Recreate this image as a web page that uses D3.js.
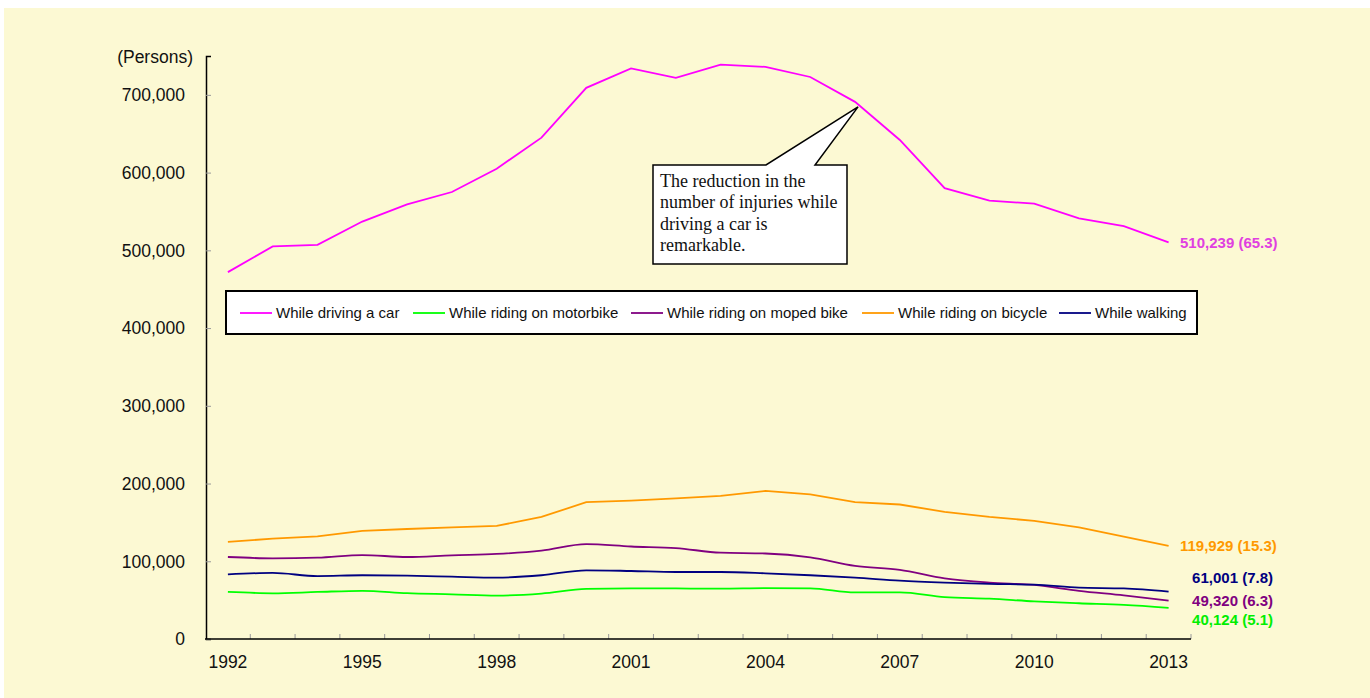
<!DOCTYPE html>
<html>
<head>
<meta charset="utf-8">
<script src="https://cdn.jsdelivr.net/npm/d3@7"></script>
<style>
  body { margin: 0; background: #fff; }
  svg { display: block; }
</style>
</head>
<body>
<div id="chart"></div>
<script>
// data (persons injured, by state at time of accident)
var years = d3.range(1992, 2014);
var yearLabels = [1992, 1995, 1998, 2001, 2004, 2007, 2010, 2013];
var yTicks = [0, 100000, 200000, 300000, 400000, 500000, 600000, 700000];

var car = [472000, 505000, 507000, 537000, 559000, 575000, 605000, 645000, 709000, 734000, 722000,
  739000, 736000, 723000, 691000, 642000, 580000, 564000, 560000, 541000, 531000, 510239];
var motorbike = [60500, 58800, 60500, 62000, 59000, 57500, 55800, 58400, 64400, 65200, 65000,
  64800, 65500, 65200, 60000, 60000, 54000, 51900, 48500, 46000, 43800, 40124];
var moped = [105500, 103800, 104600, 108000, 105500, 107700, 109400, 113700, 122000, 119000, 117000,
  111000, 110000, 105000, 94000, 89000, 78000, 72500, 69500, 62000, 56000, 49320];
var bicycle = [125000, 129000, 132000, 139000, 141500, 143700, 145400, 157000, 176000, 178000, 181000,
  184000, 190500, 186000, 176000, 173000, 163500, 157000, 152000, 143700, 131700, 119929];
var walking = [83200, 85000, 81000, 82000, 81500, 80200, 79000, 82000, 88400, 87500, 86200,
  86200, 84500, 82000, 79000, 75000, 72500, 70800, 70000, 66000, 65000, 61001];

var seriesNames = ["While driving a car", "While riding on motorbike", "While riding on moped bike",
  "While riding on bicycle", "While walking"];
var endLabels = ["510,239 (65.3)", "40,124 (5.1)", "49,320 (6.3)", "119,929 (15.3)", "61,001 (7.8)"];

var colors = ["#FF00FF", "#00FF00", "#800080", "#FF9900", "#000080"];
var labelColors = ["#E040E0", "#00EE00", "#800080", "#FF9900", "#000080"];
var labelDy = [0, 12, 0, 0, -14];

var series = [car, motorbike, moped, bicycle, walking].map(function (v, i) {
  return { name: seriesNames[i], values: v, color: colors[i], label: endLabels[i],
    labelColor: labelColors[i], smooth: i === 1 || i === 2 || i === 4, dy: labelDy[i] };
});

var W = 1370, H = 698;
var svg = d3.select("#chart").append("svg")
  .attr("width", W).attr("height", H);

svg.append("rect")
  .attr("x", 4).attr("y", 8).attr("width", W - 4).attr("height", H - 8)
  .attr("fill", "#FCF9D3");

var x = d3.scaleBand()
  .domain(years)
  .range([205.5, 1191]);
var y = d3.scaleLinear()
  .domain([0, 750000])
  .range([639, 56]);

var fmt = d3.format(",");
var font = "Arial, 'Liberation Sans', sans-serif";

// y axis
var yAxis = svg.append("g")
  .attr("transform", "translate(206,0)")
  .call(d3.axisRight(y).tickValues(yTicks).tickSize(5).tickFormat(""));
yAxis.select(".domain").attr("stroke", "#000").attr("stroke-width", 1.5);
yAxis.selectAll(".tick line").attr("stroke", "#999");

svg.append("g").selectAll("text")
  .data(yTicks)
  .enter().append("text")
  .attr("x", 185)
  .attr("y", function (d) { return y(d); })
  .attr("dy", "0.36em")
  .attr("text-anchor", "end")
  .attr("font-family", font)
  .attr("font-size", 17.5)
  .attr("fill", "#111")
  .text(function (d) { return fmt(d); });

svg.append("text")
  .attr("x", 193).attr("y", 63)
  .attr("text-anchor", "end")
  .attr("font-family", font)
  .attr("font-size", 17.5)
  .attr("fill", "#111")
  .text("(Persons)");

// x axis: ticks sit on the category boundaries
var bounds = years.slice(1).map(function (d) { return x(d); }).concat([x.range()[1]]);
var xAxisG = svg.append("g");
xAxisG.selectAll("line.tick")
  .data(bounds)
  .enter().append("line")
  .attr("class", "tick")
  .attr("x1", function (d) { return d; })
  .attr("x2", function (d) { return d; })
  .attr("y1", y(0)).attr("y2", y(0) - 5)
  .attr("stroke", "#999");
xAxisG.append("line")
  .attr("x1", 205).attr("x2", x.range()[1])
  .attr("y1", y(0)).attr("y2", y(0))
  .attr("stroke", "#000").attr("stroke-width", 1.5);

xAxisG.selectAll("text")
  .data(yearLabels)
  .enter().append("text")
  .attr("x", function (d) { return x(d) + x.bandwidth() / 2; })
  .attr("y", 668)
  .attr("text-anchor", "middle")
  .attr("font-family", font)
  .attr("font-size", 17.5)
  .attr("fill", "#111")
  .text(function (d) { return d; });

// lines
var cx = function (d, i) { return x(years[i]) + x.bandwidth() / 2; };
var lineStraight = d3.line().x(cx).y(function (d) { return y(d); });
var lineSmooth = d3.line().x(cx).y(function (d) { return y(d); }).curve(d3.curveMonotoneX);

svg.append("g").selectAll("path")
  .data(series)
  .enter().append("path")
  .attr("d", function (s) { return (s.smooth ? lineSmooth : lineStraight)(s.values); })
  .attr("fill", "none")
  .attr("stroke", function (s) { return s.color; })
  .attr("stroke-width", 1.8);

// end labels
svg.append("g").selectAll("text")
  .data(series)
  .enter().append("text")
  .attr("x", function (s, i) { return i === 0 || i === 3 ? 1180 : 1273; })
  .attr("y", function (s) { return y(s.values[s.values.length - 1]) + s.dy; })
  .attr("dy", "0.36em")
  .attr("text-anchor", function (s, i) { return i === 0 || i === 3 ? "start" : "end"; })
  .attr("font-family", font)
  .attr("font-size", 15)
  .attr("font-weight", "bold")
  .attr("fill", function (s) { return s.labelColor; })
  .text(function (s) { return s.label; });

// legend
var legend = svg.append("g");
legend.append("rect")
  .attr("x", 226).attr("y", 291).attr("width", 971).attr("height", 43)
  .attr("fill", "#fff").attr("stroke", "#000").attr("stroke-width", 2);
var legendX = [240, 413, 631, 862, 1059];
var li = legend.selectAll("g.item")
  .data(series)
  .enter().append("g")
  .attr("class", "item")
  .attr("transform", function (s, i) { return "translate(" + legendX[i] + ",313)"; });
li.append("line")
  .attr("x1", 0).attr("x2", 32)
  .attr("stroke", function (s) { return s.color; })
  .attr("stroke-width", 1.8);
li.append("text")
  .attr("x", 36)
  .attr("dy", "0.36em")
  .attr("font-family", font)
  .attr("font-size", 15)
  .attr("fill", "#111")
  .text(function (s) { return s.name; });

// callout pointing at the 2006 car value
var tipX = x(2006) + x.bandwidth() / 2 + 3, tipY = y(car[14]) + 5;
var callout = svg.append("g");
callout.append("path")
  .attr("d", "M653,165 L766,165 L" + tipX + "," + tipY + " L815,165 L847,165 L847,264 L653,264 Z")
  .attr("fill", "#fff").attr("stroke", "#000").attr("stroke-width", 1.5);
var noteLines = ["The reduction in the", "number of injuries while", "driving a car is", "remarkable."];
callout.selectAll("text")
  .data(noteLines)
  .enter().append("text")
  .attr("x", 660)
  .attr("y", function (d, i) { return 187 + i * 21.3; })
  .attr("font-family", "'Liberation Serif', 'Times New Roman', serif")
  .attr("font-size", 18)
  .attr("fill", "#111")
  .text(function (d) { return d; });
</script>
</body>
</html>
